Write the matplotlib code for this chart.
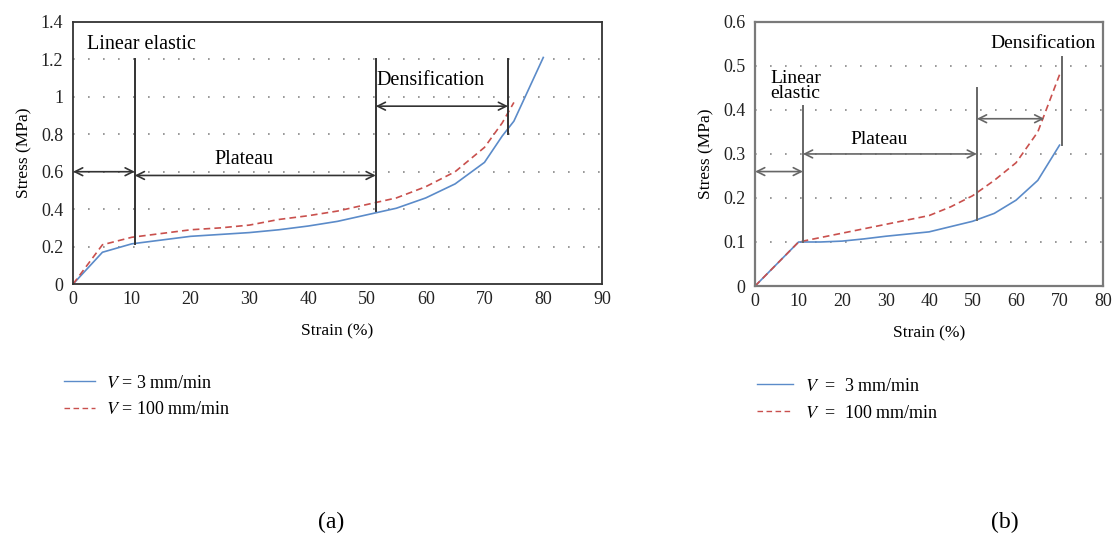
import matplotlib
matplotlib.use("Agg")
import matplotlib.pyplot as plt
from matplotlib.lines import Line2D

plt.rcParams['font.family'] = ['Liberation Serif', 'DejaVu Serif']
plt.rcParams['mathtext.fontset'] = 'stix'

# Panel (a) data
strain_a = [0, 5, 10, 15, 20, 25, 30, 35, 40, 45, 50, 55, 60, 65, 70, 73, 75, 80]
stress_a_slow = [0, 0.17, 0.215, 0.235, 0.255, 0.265, 0.275, 0.29, 0.31, 0.335, 0.37,
                 0.405, 0.46, 0.535, 0.65, 0.79, 0.87, 1.21]
strain_a_fast = [0, 5, 10, 15, 20, 25, 30, 35, 40, 45, 50, 55, 60, 65, 70, 73, 75]
stress_a_fast = [0, 0.21, 0.25, 0.27, 0.29, 0.30, 0.315, 0.345, 0.365, 0.39, 0.425,
                 0.46, 0.52, 0.60, 0.73, 0.86, 0.97]

# Panel (b) data
strain_b = [0, 5, 10, 15, 20, 25, 30, 35, 40, 45, 50, 55, 60, 65, 70]
stress_b_slow = [0, 0.05, 0.1, 0.1, 0.102, 0.107, 0.113, 0.118, 0.123, 0.135, 0.147,
                 0.165, 0.195, 0.24, 0.32]
stress_b_fast = [0, 0.05, 0.1, 0.11, 0.12, 0.13, 0.14, 0.15, 0.16, 0.18, 0.205,
                 0.24, 0.28, 0.35, 0.48]

# region boundaries: (x, y_from, y_to) and double arrows: (x_from, x_to, y)
bounds_a = [(10.5, 0.215, 1.2), (51.5, 0.39, 1.2), (74, 0.8, 1.2)]
arrows_a = [(0, 10.5, 0.6), (10.5, 51.5, 0.58), (51.5, 74, 0.95)]
bounds_b = [(11, 0.1, 0.41), (51, 0.15, 0.45), (70.5, 0.32, 0.52)]
arrows_b = [(0, 11, 0.26), (11, 51, 0.30), (51, 66.5, 0.38)]

blue = '#5b8bc9'
red = '#c9504d'

fig = plt.figure(figsize=(11.17, 5.34), dpi=100)
ax1 = fig.add_axes([0.0654, 0.468, 0.4736, 0.491])
ax2 = fig.add_axes([0.676, 0.4644, 0.3115, 0.4946])


def style(ax, xmax, ymax, ystep, xticks, frame, lw):
    ax.set_xlim(0, xmax)
    ax.set_ylim(0, ymax)
    ax.set_xticks(xticks)
    yt = [round(i * ystep, 2) for i in range(int(round(ymax / ystep)) + 1)]
    ax.set_yticks(yt)
    ax.set_yticklabels(['%g' % v for v in yt])
    ax.tick_params(axis='y', length=0, labelsize=13, pad=7, colors='#222222')
    ax.tick_params(axis='x', length=0, labelsize=13, pad=5, colors='#222222')
    for s in ax.spines.values():
        s.set_color(frame)
        s.set_linewidth(lw)
    for v in yt[1:-1]:
        ax.axhline(v, color='#888888', linestyle=(0, (1, 8)), linewidth=1.2, zorder=0)
    ax.set_xlabel('Strain (%)', fontsize=12.5, labelpad=11)
    ax.set_ylabel('Stress (MPa)', fontsize=12.5, labelpad=6)


def annotate(ax, bounds, arrows, col):
    for x, y0, y1 in bounds:
        ax.plot([x, x], [y0, y1], color=col, linewidth=1.4)
    for x0, x1, y in arrows:
        ax.annotate('', xy=(x1, y), xytext=(x0, y),
                    arrowprops=dict(arrowstyle='<->', color=col, lw=1.2,
                                    shrinkA=0, shrinkB=0, mutation_scale=14))


style(ax1, 90, 1.4, 0.2, range(0, 91, 10), '#333333', 1.3)
ax1.plot(strain_a, stress_a_slow, color=blue, linewidth=1.2)
ax1.plot(strain_a_fast, stress_a_fast, color=red, linewidth=1.2, linestyle=(0, (4, 2.5)))
annotate(ax1, bounds_a, arrows_a, '#333333')
ax1.text(2.4, 1.28, 'Linear elastic', fontsize=14.5, va='center')
ax1.text(29, 0.665, 'Plateau', fontsize=14.5, va='center', ha='center')
ax1.text(51.6, 1.085, 'Densification', fontsize=14.5, va='center')

style(ax2, 80, 0.6, 0.1, range(0, 81, 10), '#7a7a7a', 1.6)
ax2.plot(strain_b, stress_b_slow, color=blue, linewidth=1.2)
ax2.plot(strain_b, stress_b_fast, color=red, linewidth=1.2, linestyle=(0, (4, 2.5)))
annotate(ax2, bounds_b, arrows_b, '#666666')
ax2.text(3.5, 0.455, 'Linear\nelastic', fontsize=14, va='center', linespacing=0.85)
ax2.text(28.5, 0.333, 'Plateau', fontsize=14, va='center', ha='center')
ax2.text(78.3, 0.55, 'Densification', fontsize=14, va='center', ha='right')

handles = [Line2D([], [], color=blue, linewidth=1.0),
           Line2D([], [], color=red, linewidth=1.0, linestyle=(0, (4, 2.5)))]
fig.legend(handles, ['$V$ = 3 mm/min', '$V$ = 100 mm/min'], loc='upper left',
           bbox_to_anchor=(0.043, 0.329), frameon=False, fontsize=13,
           handlelength=1.7, handletextpad=0.6, labelspacing=0.55)
fig.legend(handles, ['$V$  =  3 mm/min', '$V$  =  100 mm/min'], loc='upper left',
           bbox_to_anchor=(0.663, 0.323), frameon=False, fontsize=13,
           handlelength=2.0, handletextpad=0.65, labelspacing=0.55)

fig.text(0.296, 0.012, '(a)', fontsize=17, ha='center')
fig.text(0.9, 0.012, '(b)', fontsize=17, ha='center')

plt.savefig('out.png', dpi=100)
